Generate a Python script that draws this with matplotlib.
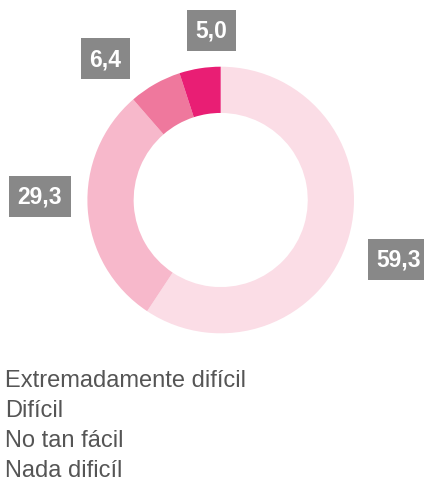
import matplotlib
matplotlib.use("Agg")
import matplotlib.pyplot as plt
import numpy as np

categories = ["Nada dificíl", "No tan fácil", "Difícil", "Extremadamente difícil"]
values = [59.3, 29.3, 6.4, 5.0]
labels = ["59,3", "29,3", "6,4", "5,0"]
legend_order = ["Extremadamente difícil", "Difícil", "No tan fácil", "Nada dificíl"]
colors = ["#fbdde6", "#f7b8cb", "#ef789d", "#e91e74"]

plt.rcParams['font.family'] = ['Liberation Sans', 'DejaVu Sans']

W, H = 424, 481
fig = plt.figure(figsize=(W / 100, H / 100), dpi=100)
cx, cy, R = 220.7, 201.0, 133.3
ax = fig.add_axes([(cx - R) / W, (H - cy - R) / H, 2 * R / W, 2 * R / H])
wedges, _ = ax.pie(values, colors=colors, startangle=90, counterclock=False,
                   radius=1.0, wedgeprops=dict(width=0.347, linewidth=0))
ax.set_xlim(-1, 1)
ax.set_ylim(-1, 1)
ax.set_aspect('equal')
ax.axis('off')

# data-label box centres (pixels from top-left), layout only
label_px = [(399, 260.5), (40, 197.5), (105.5, 59.5), (211.5, 31.3)]
for (px, py), lab in zip(label_px, labels):
    fig.text(px / W, 1 - py / H, lab, ha='center', va='center',
             color='white', fontsize=16.5, fontweight='bold',
             bbox=dict(boxstyle='square,pad=0.38', facecolor='#888888', edgecolor='none'))

y0 = 1 - 387 / H
for i, name in enumerate(legend_order):
    fig.text(5 / W, y0 - i * 30 / H, name, ha='left', va='baseline',
             fontsize=17, color='#555555')

fig.savefig("out.png", dpi=100)
